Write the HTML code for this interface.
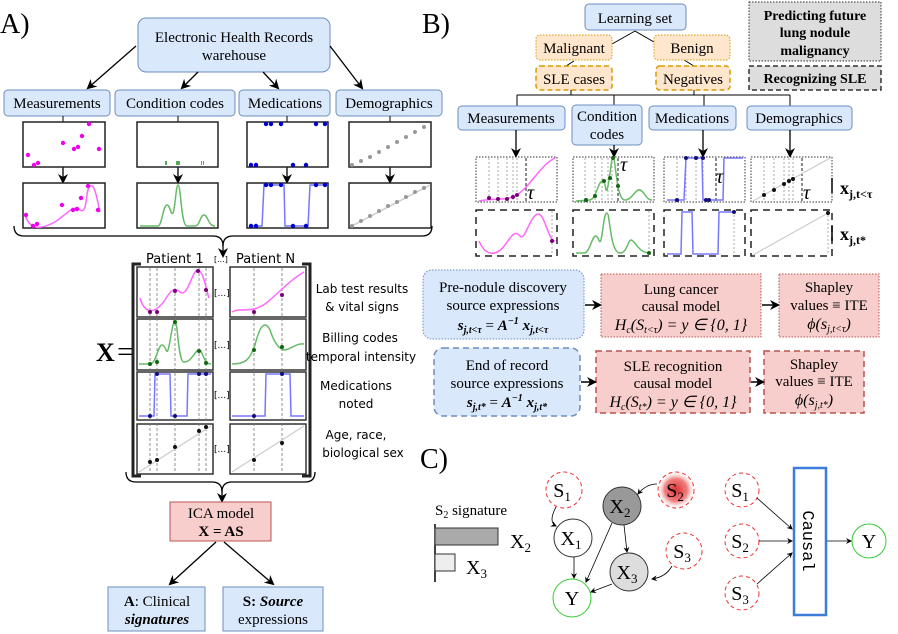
<!DOCTYPE html>
<html><head><meta charset="utf-8"><style>
html,body{margin:0;padding:0;background:#fff}
svg{display:block}
.s{font-family:"Liberation Serif",serif}
.n{font-family:"DejaVu Sans","Liberation Sans",sans-serif}
</style></head><body>
<svg width="898" height="634" viewBox="0 0 898 634" xmlns="http://www.w3.org/2000/svg">
<defs>
<marker id="ah" markerWidth="10" markerHeight="10" refX="8" refY="5" orient="auto" markerUnits="userSpaceOnUse"><path d="M0,0 L10,5 L0,10 L3,5z" fill="#000"/></marker>
<marker id="as" markerWidth="6" markerHeight="6" refX="5" refY="3" orient="auto" markerUnits="userSpaceOnUse"><path d="M0,0 L6,3 L0,6 L2,3z" fill="#000"/></marker>
<radialGradient id="rg"><stop offset="0" stop-color="#d33"/><stop offset="0.6" stop-color="#f08080"/><stop offset="1" stop-color="#fff" stop-opacity="0"/></radialGradient>
</defs>
<g class="s" fill="#000">
<!-- Panel A -->
<text x="0" y="33" font-size="28">A)</text>
<rect x="138" y="18" width="192" height="54" rx="8" fill="#dae8fc" stroke="#6c8ebf"/>
<text x="234" y="42" font-size="15" text-anchor="middle">Electronic Health Records</text>
<text x="234" y="60" font-size="15" text-anchor="middle">warehouse</text>
<g stroke="#000" stroke-width="1.3" fill="none" marker-end="url(#ah)">
<line x1="136" y1="46" x2="88" y2="88"/><line x1="198" y1="72" x2="182" y2="88"/>
<line x1="263" y1="72" x2="278" y2="88"/><line x1="330" y1="46" x2="362" y2="88"/>
</g>
<g fill="#dae8fc" stroke="#6c8ebf">
<rect x="4" y="90" width="106" height="26" rx="4"/><rect x="115" y="90" width="120" height="26" rx="4"/>
<rect x="239" y="90" width="91" height="26" rx="4"/><rect x="336" y="90" width="106" height="26" rx="4"/>
</g>
<g font-size="15" text-anchor="middle">
<text x="57" y="108">Measurements</text><text x="175" y="108">Condition codes</text>
<text x="285" y="108">Medications</text><text x="389" y="108">Demographics</text>
</g>
<g stroke="#000" stroke-width="1"><line x1="63" y1="116" x2="63" y2="122"/><line x1="178" y1="116" x2="178" y2="122"/><line x1="287" y1="116" x2="287" y2="122"/><line x1="390" y1="116" x2="390" y2="122"/></g>
<g stroke="#000" stroke-width="1.3" marker-end="url(#ah)"><line x1="63" y1="167" x2="63" y2="182"/><line x1="178" y1="167" x2="178" y2="182"/><line x1="287" y1="167" x2="287" y2="182"/><line x1="390" y1="167" x2="390" y2="182"/></g>
<g fill="#fff" stroke="#222" stroke-width="1.5">
<rect x="23" y="122" width="82" height="45"/><rect x="137" y="122" width="81" height="45"/><rect x="247" y="122" width="81" height="45"/><rect x="349" y="122" width="82" height="45"/>
<rect x="23" y="183" width="82" height="45"/><rect x="137" y="183" width="81" height="45"/><rect x="247" y="183" width="81" height="45"/><rect x="349" y="183" width="82" height="45"/>
</g>
<g fill="#e0e">
<circle cx="28" cy="155" r="2.2"/><circle cx="34" cy="165" r="2.2"/><circle cx="38" cy="163" r="2.2"/><circle cx="63" cy="143" r="2.2"/><circle cx="74" cy="149" r="2.2"/><circle cx="78" cy="147" r="2.2"/><circle cx="82" cy="136" r="2.2"/><circle cx="89" cy="124" r="2.2"/><circle cx="99" cy="149" r="2.2"/>
</g>
<g fill="#5a5" ><rect x="165" y="161" width="2" height="4"/><rect x="176" y="161" width="4" height="4"/><rect x="201" y="161" width="1" height="4"/><rect x="203" y="161" width="1" height="4"/></g>
<g fill="#00c"><circle cx="251" cy="165" r="2.2"/><circle cx="256" cy="165" r="2.2"/><circle cx="266" cy="124" r="2.2"/><circle cx="271" cy="124" r="2.2"/><circle cx="281" cy="124" r="2.2"/><circle cx="293" cy="165" r="2.2"/><circle cx="306" cy="165" r="2.2"/><circle cx="316" cy="124" r="2.2"/><circle cx="325" cy="124" r="2.2"/></g>
<g fill="#999"><circle cx="352" cy="165" r="2"/><circle cx="361" cy="161" r="2"/><circle cx="370" cy="157" r="2"/><circle cx="379" cy="152" r="2"/><circle cx="388" cy="147" r="2"/><circle cx="397" cy="142" r="2"/><circle cx="406" cy="137" r="2"/><circle cx="415" cy="132" r="2"/><circle cx="424" cy="127" r="2"/></g>
<path d="M25,215 C30,230 40,230 55,222 C70,212 72,205 80,210 C88,215 85,190 90,186 C95,183 97,200 100,212" stroke="#f6f" stroke-width="1.5" fill="none"/>
<g fill="#e0e"><circle cx="26" cy="215" r="2.2"/><circle cx="33" cy="226" r="2.2"/><circle cx="37" cy="224" r="2.2"/><circle cx="62" cy="205" r="2.2"/><circle cx="73" cy="210" r="2.2"/><circle cx="77" cy="209" r="2.2"/><circle cx="81" cy="198" r="2.2"/><circle cx="88" cy="186" r="2.2"/><circle cx="98" cy="210" r="2.2"/></g>
<path d="M140,226 L158,226 C162,226 163,205 167,205 C170,205 171,216 173,213 C175,210 176,185 178,185 C181,185 181,226 187,226 L195,226 C200,226 200,215 204,215 C208,215 208,226 215,226" stroke="#6b6" stroke-width="1.5" fill="none"/>
<path d="M250,226 L262,226 L264,185 L284,185 L285,226 L308,226 L310,185 L326,185" stroke="#77f" stroke-width="1.5" fill="none"/>
<g fill="#00c"><circle cx="251" cy="226" r="2.2"/><circle cx="256" cy="226" r="2.2"/><circle cx="266" cy="185" r="2.2"/><circle cx="271" cy="185" r="2.2"/><circle cx="281" cy="185" r="2.2"/><circle cx="293" cy="226" r="2.2"/><circle cx="306" cy="226" r="2.2"/><circle cx="316" cy="185" r="2.2"/><circle cx="325" cy="185" r="2.2"/></g>
<line x1="350" y1="227" x2="430" y2="185" stroke="#ccc" stroke-width="1.5"/>
<g fill="#999"><circle cx="352" cy="226" r="2"/><circle cx="361" cy="221" r="2"/><circle cx="370" cy="216" r="2"/><circle cx="379" cy="211" r="2"/><circle cx="388" cy="206" r="2"/><circle cx="397" cy="202" r="2"/><circle cx="406" cy="197" r="2"/><circle cx="415" cy="192" r="2"/><circle cx="424" cy="188" r="2"/></g>
<path d="M14,226 Q14,236 24,236 L213,236 Q223,236 223,246 Q223,236 233,236 L422,236 Q432,236 432,226" stroke="#000" stroke-width="1.3" fill="none"/>
<line x1="223" y1="244" x2="223" y2="256" stroke="#000" stroke-width="1.3" marker-end="url(#ah)"/>
<text x="146" y="263" class="n" font-size="13">Patient 1</text>
<text x="214" y="262" class="n" font-size="8">[...]</text>
<text x="236" y="263" class="n" font-size="13">Patient N</text>
<path d="M141,264 L133,264 L133,476 L141,476" stroke="#222" stroke-width="3" fill="none"/>
<path d="M302,264 L310,264 L310,476 L302,476" stroke="#222" stroke-width="3" fill="none"/>
<text x="96" y="361" font-size="26" font-weight="bold">X</text>
<text x="125" y="361" font-size="28" text-anchor="middle">=</text>
<g fill="#fff" stroke="#333" stroke-width="1.5">
<rect x="137" y="267" width="76" height="50"/><rect x="137" y="319" width="76" height="51"/><rect x="137" y="372" width="76" height="48"/><rect x="137" y="424" width="76" height="50"/>
<rect x="230" y="267" width="76" height="50"/><rect x="230" y="319" width="76" height="51"/><rect x="230" y="372" width="76" height="48"/><rect x="230" y="424" width="76" height="50"/>
</g>
<g stroke="#777" stroke-width="0.8" stroke-dasharray="3,2">
<line x1="150" y1="268" x2="150" y2="473"/><line x1="157" y1="268" x2="157" y2="473"/><line x1="175" y1="268" x2="175" y2="473"/><line x1="199" y1="268" x2="199" y2="473"/><line x1="206" y1="268" x2="206" y2="473"/>
<line x1="254" y1="268" x2="254" y2="473"/><line x1="282" y1="268" x2="282" y2="473"/>
</g>
<g class="n" font-size="9"><text x="214" y="296">[...]</text><text x="214" y="348">[...]</text><text x="214" y="398">[...]</text><text x="214" y="452">[...]</text></g>
<path d="M140,298 C145,315 155,314 165,300 C172,288 175,288 180,292 C188,298 192,270 198,270 C204,272 206,290 209,298" stroke="#f6f" stroke-width="1.5" fill="none"/>
<path d="M232,312 C240,307 250,314 265,304 C280,292 290,280 304,272" stroke="#f6f" stroke-width="1.5" fill="none"/>
<path d="M139,364 L150,364 C156,364 158,345 162,345 C166,345 166,355 168,350 C171,340 172,322 175,322 C178,322 178,362 184,362 C192,362 195,350 199,350 C203,350 203,364 211,364" stroke="#6b6" stroke-width="1.5" fill="none"/>
<path d="M232,364 C245,364 250,360 255,345 C260,325 265,320 270,330 C275,345 280,350 285,350 C292,348 298,343 304,344" stroke="#6b6" stroke-width="1.5" fill="none"/>
<path d="M139,416 L154,416 L155,374 L170,374 L171,416 L187,416 L188,374 L211,374" stroke="#77f" stroke-width="1.5" fill="none"/>
<path d="M232,416 L265,416 L266,374 L290,374 L291,416 L304,416" stroke="#77f" stroke-width="1.5" fill="none"/>
<line x1="139" y1="472" x2="211" y2="426" stroke="#ccc" stroke-width="1.2"/><line x1="232" y1="472" x2="304" y2="426" stroke="#ccc" stroke-width="1.2"/>
<g fill="#707"><circle cx="150" cy="312" r="2"/><circle cx="157" cy="312" r="2"/><circle cx="175" cy="291" r="2"/><circle cx="198" cy="271" r="2"/><circle cx="206" cy="290" r="2"/><circle cx="254" cy="312" r="2"/><circle cx="282" cy="295" r="2"/></g>
<g fill="#161"><circle cx="150" cy="364" r="2"/><circle cx="157" cy="362" r="2"/><circle cx="175" cy="322" r="2"/><circle cx="199" cy="351" r="2"/><circle cx="206" cy="363" r="2"/><circle cx="254" cy="350" r="2"/><circle cx="282" cy="347" r="2"/></g>
<g fill="#117"><circle cx="150" cy="416" r="2"/><circle cx="157" cy="374" r="2"/><circle cx="175" cy="416" r="2"/><circle cx="199" cy="374" r="2"/><circle cx="206" cy="374" r="2"/><circle cx="254" cy="416" r="2"/><circle cx="282" cy="374" r="2"/></g>
<g fill="#111"><circle cx="150" cy="462" r="2"/><circle cx="157" cy="460" r="2"/><circle cx="175" cy="447" r="2"/><circle cx="199" cy="431" r="2"/><circle cx="206" cy="427" r="2"/><circle cx="254" cy="460" r="2"/><circle cx="282" cy="443" r="2"/></g>
<g class="n" font-size="12" text-anchor="middle">
<text x="362" y="293">Lab test results</text><text x="362" y="311">&amp; vital signs</text>
<text x="360" y="342">Billing codes</text><text x="361" y="361">temporal intensity</text>
<text x="356" y="390">Medications</text><text x="356" y="408">noted</text>
<text x="356" y="439">Age, race,</text><text x="363" y="457">biological sex</text>
</g>
<path d="M126,472 Q126,482 136,482 L212,482 Q222,482 222,492 Q222,482 232,482 L305,482 Q315,482 315,472" stroke="#000" stroke-width="1.3" fill="none"/>
<line x1="222" y1="490" x2="222" y2="501" stroke="#000" stroke-width="1.3" marker-end="url(#ah)"/>
<rect x="170" y="502" width="101" height="39" fill="#f8cecc" stroke="#b85450"/>
<text x="221" y="518" font-size="15" text-anchor="middle">ICA model</text>
<text x="221" y="536" font-size="15" text-anchor="middle" font-weight="bold">X = AS</text>
<g stroke="#000" stroke-width="1.3" marker-end="url(#ah)"><line x1="216" y1="542" x2="170" y2="584"/><line x1="224" y1="542" x2="273" y2="584"/></g>
<rect x="108" y="587" width="97" height="44" fill="#dae8fc" stroke="#6c8ebf"/>
<rect x="223" y="587" width="100" height="44" fill="#dae8fc" stroke="#6c8ebf"/>
<text x="157" y="606" font-size="15" text-anchor="middle"><tspan font-weight="bold">A</tspan>: Clinical</text>
<text x="157" y="624" font-size="15" text-anchor="middle" font-weight="bold" font-style="italic">signatures</text>
<text x="273" y="606" font-size="15" text-anchor="middle" font-weight="bold">S: <tspan font-style="italic">Source</tspan></text>
<text x="273" y="624" font-size="15" text-anchor="middle">expressions</text>

<!-- Panel B -->
<text x="422" y="33" font-size="28">B)</text>
<rect x="585" y="4" width="101" height="26" rx="4" fill="#dae8fc" stroke="#6c8ebf"/>
<text x="635" y="23" font-size="15" text-anchor="middle">Learning set</text>
<g stroke="#000" stroke-width="1"><line x1="612" y1="44" x2="635" y2="31"/><line x1="635" y1="31" x2="654" y2="42"/><line x1="574" y1="61" x2="566" y2="66"/><line x1="684" y1="60" x2="694" y2="66"/></g>
<g fill="#ffe6cc" stroke="#d79b00">
<rect x="536" y="35" width="76" height="25" rx="4" stroke-dasharray="1.5,1.5"/><rect x="654" y="35" width="76" height="25" rx="4" stroke-dasharray="1.5,1.5"/>
<rect x="536" y="66" width="76" height="24" rx="4" stroke-dasharray="5,3" stroke-width="1.5"/><rect x="656" y="66" width="74" height="24" rx="4" stroke-dasharray="5,3" stroke-width="1.5"/>
</g>
<g font-size="15" text-anchor="middle"><text x="574" y="53">Malignant</text><text x="692" y="53">Benign</text><text x="574" y="84">SLE cases</text><text x="693" y="84">Negatives</text></g>
<rect x="749" y="2" width="132" height="59" fill="#ddd" stroke="#333" stroke-dasharray="1.5,1.5"/>
<rect x="749" y="66" width="132" height="24" fill="#ddd" stroke="#333" stroke-dasharray="5,3" stroke-width="1.5"/>
<g font-size="14" font-weight="bold" text-anchor="middle"><text x="815" y="20">Predicting future</text><text x="815" y="37">lung nodule</text><text x="815" y="55">malignancy</text><text x="815" y="83">Recognizing SLE</text></g>
<g stroke="#000" stroke-width="1" fill="none">
<line x1="571" y1="90" x2="571" y2="95"/><line x1="694" y1="90" x2="694" y2="95"/>
<line x1="517" y1="95" x2="790" y2="95"/>
<line x1="517" y1="95" x2="517" y2="106"/><line x1="614" y1="95" x2="614" y2="105"/><line x1="704" y1="95" x2="704" y2="106"/><line x1="790" y1="95" x2="790" y2="106"/>
</g>
<g fill="#dae8fc" stroke="#6c8ebf">
<rect x="458" y="106" width="107" height="24" rx="4"/><rect x="572" y="105" width="70" height="40" rx="4"/><rect x="649" y="106" width="87" height="24" rx="4"/><rect x="747" y="106" width="105" height="24" rx="4"/>
</g>
<g font-size="15" text-anchor="middle"><text x="511" y="123">Measurements</text><text x="607" y="121">Condition</text><text x="607" y="139">codes</text><text x="692" y="123">Medications</text><text x="799" y="123">Demographics</text></g>
<g stroke="#000" stroke-width="1.3" marker-end="url(#ah)"><line x1="516" y1="130" x2="516" y2="156"/><line x1="614" y1="145" x2="614" y2="156"/><line x1="703" y1="130" x2="703" y2="156"/><line x1="790" y1="130" x2="790" y2="156"/></g>
<g fill="#fff" stroke="#333" stroke-dasharray="1.5,1.5">
<rect x="476" y="157" width="81" height="45"/><rect x="573" y="157" width="81" height="45"/><rect x="664" y="157" width="81" height="45"/><rect x="751" y="157" width="81" height="45"/>
</g>
<g fill="none" stroke="#222" stroke-dasharray="7,5" stroke-width="1.5">
<rect x="476" y="210" width="81" height="46"/><rect x="573" y="210" width="81" height="46"/><rect x="664" y="210" width="81" height="46"/><rect x="751" y="210" width="81" height="46"/>
</g>
<g stroke="#888" stroke-width="0.7" stroke-dasharray="2,2">
<line x1="489" y1="158" x2="489" y2="201"/><line x1="498" y1="158" x2="498" y2="201"/><line x1="507" y1="158" x2="507" y2="201"/><line x1="513" y1="158" x2="513" y2="201"/><line x1="517" y1="158" x2="517" y2="201"/>
<line x1="585" y1="158" x2="585" y2="201"/><line x1="595" y1="158" x2="595" y2="201"/><line x1="602" y1="158" x2="602" y2="201"/><line x1="608" y1="158" x2="608" y2="201"/><line x1="612" y1="158" x2="612" y2="201"/>
<line x1="677" y1="158" x2="677" y2="201"/><line x1="686" y1="158" x2="686" y2="201"/><line x1="696" y1="158" x2="696" y2="201"/><line x1="703" y1="158" x2="703" y2="201"/>
<line x1="764" y1="158" x2="764" y2="201"/><line x1="774" y1="158" x2="774" y2="201"/><line x1="784" y1="158" x2="784" y2="201"/><line x1="789" y1="158" x2="789" y2="201"/><line x1="793" y1="158" x2="793" y2="201"/>
</g>
<g stroke="#000" stroke-width="0.9" stroke-dasharray="3,2"><line x1="526" y1="158" x2="526" y2="201"/><line x1="618" y1="158" x2="618" y2="201"/><line x1="716" y1="158" x2="716" y2="201"/><line x1="802" y1="158" x2="802" y2="201"/></g>
<path d="M479,201 C490,198 505,201 515,196 C530,188 540,165 555,158" stroke="#f6f" stroke-width="1.5" fill="none"/>
<path d="M576,201 L590,200 C597,198 598,180 603,181 C606,182 605,192 607,190 C610,180 611,158 613,158 C616,158 616,200 625,200 C632,200 636,188 640,190 C645,192 646,200 652,200" stroke="#6b6" stroke-width="1.5" fill="none"/>
<path d="M667,200 L684,200 L686,158 L702,158 L703,200 L723,200 L724,158 L743,158" stroke="#77f" stroke-width="1.5" fill="none"/>
<line x1="753" y1="201" x2="830" y2="158" stroke="#ccc" stroke-width="1.2"/>
<g fill="#707"><circle cx="489" cy="198" r="2"/><circle cx="498" cy="199" r="2"/><circle cx="507" cy="199" r="2"/><circle cx="513" cy="197" r="2"/><circle cx="517" cy="195" r="2"/></g>
<g fill="#161"><circle cx="586" cy="200" r="2"/><circle cx="595" cy="196" r="2"/><circle cx="604" cy="181" r="2"/><circle cx="610" cy="178" r="2"/><circle cx="613" cy="158" r="2"/><circle cx="618" cy="186" r="2"/></g>
<g fill="#117"><circle cx="677" cy="200" r="2"/><circle cx="686" cy="158" r="2"/><circle cx="696" cy="158" r="2"/><circle cx="703" cy="158" r="2"/><circle cx="706" cy="200" r="2"/><circle cx="709" cy="200" r="2"/></g>
<g fill="#111"><circle cx="764" cy="195" r="2"/><circle cx="774" cy="190" r="2"/><circle cx="784" cy="184" r="2"/><circle cx="789" cy="181" r="2"/><circle cx="793" cy="179" r="2"/></g>
<g font-size="20" font-style="italic"><text x="527" y="199">τ</text><text x="620" y="171">τ</text><text x="716" y="183">τ</text><text x="803" y="199">τ</text></g>
<path d="M479,241 C485,255 495,258 505,245 C512,235 515,230 520,236 C525,242 530,215 538,214 C545,214 548,240 555,241" stroke="#f6f" stroke-width="1.5" fill="none"/>
<path d="M576,253 L584,253 C590,253 592,235 596,236 C599,237 599,245 601,240 C604,225 604,213 607,213 C610,213 610,253 620,253 C627,253 628,240 631,240 C635,240 638,253 650,253" stroke="#6b6" stroke-width="1.5" fill="none"/>
<path d="M667,254 L681,254 L682,212 L692,212 L693,254 L718,254 L719,212 L734,212" stroke="#77f" stroke-width="1.5" fill="none"/>
<line x1="753" y1="255" x2="828" y2="213" stroke="#ccc" stroke-width="1.2"/>
<g stroke="#888" stroke-width="0.7" stroke-dasharray="2,2"><line x1="552" y1="211" x2="552" y2="255"/><line x1="649" y1="211" x2="649" y2="255"/><line x1="734" y1="211" x2="734" y2="255"/><line x1="828" y1="211" x2="828" y2="255"/></g>
<g><circle cx="552" cy="241" r="2" fill="#707"/><circle cx="649" cy="253" r="2" fill="#161"/><circle cx="734" cy="212" r="2" fill="#117"/><circle cx="828" cy="213" r="2" fill="#111"/></g>
<text x="840" y="194" font-size="18" font-weight="bold">x<tspan font-size="12" dy="4">j,t&lt;τ</tspan></text>
<text x="840" y="240" font-size="18" font-weight="bold">x<tspan font-size="12" dy="4">j,t*</tspan></text>
<line x1="832" y1="226" x2="832" y2="241" stroke="#000" stroke-width="1.5"/>
<line x1="832" y1="178" x2="832" y2="193" stroke="#000" stroke-width="1.5"/>
<rect x="423" y="270" width="161" height="69" rx="9" fill="#dae8fc" stroke="#6c8ebf" stroke-dasharray="1.5,1.5"/>
<rect x="601" y="274" width="160" height="63" fill="#f8cecc" stroke="#b85450" stroke-dasharray="1.5,1.5"/>
<rect x="779" y="274" width="100" height="63" fill="#f8cecc" stroke="#b85450" stroke-dasharray="1.5,1.5"/>
<rect x="434" y="348" width="146" height="68" rx="9" fill="#dae8fc" stroke="#6c8ebf" stroke-dasharray="6,4" stroke-width="1.5"/>
<rect x="596" y="351" width="154" height="62" fill="#f8cecc" stroke="#b85450" stroke-dasharray="6,4" stroke-width="1.5"/>
<rect x="764" y="351" width="100" height="62" fill="#f8cecc" stroke="#b85450" stroke-dasharray="6,4" stroke-width="1.5"/>
<g stroke="#000" stroke-width="1.5" marker-end="url(#ah)"><line x1="585" y1="305" x2="600" y2="305"/><line x1="762" y1="305" x2="778" y2="305"/><line x1="581" y1="382" x2="595" y2="382"/><line x1="751" y1="382" x2="763" y2="382"/></g>
<g font-size="15" text-anchor="middle">
<text x="503" y="292">Pre-nodule discovery</text><text x="503" y="310">source expressions</text>
<text x="503" y="330" font-style="italic" font-weight="bold" font-size="15">s<tspan font-size="10" dy="3">j,t&lt;τ</tspan><tspan dy="-3" font-weight="normal" font-style="normal"> = </tspan>A<tspan font-size="10" dy="-6">−1</tspan><tspan dy="6"> x</tspan><tspan font-size="10" dy="3">j,t&lt;τ</tspan></text>
<text x="681" y="294">Lung cancer</text><text x="681" y="311">causal model</text>
<text x="681" y="330" font-style="italic" font-size="16">H<tspan font-size="10" dy="3">c</tspan><tspan dy="-3">(S</tspan><tspan font-size="10" dy="3">t&lt;τ</tspan><tspan dy="-3">) = y ∈ {0, 1}</tspan></text>
<text x="829" y="292">Shapley</text><text x="829" y="310">values ≡ ITE</text>
<text x="829" y="329" font-style="italic" font-size="16">ϕ(s<tspan font-size="10" dy="3">j,t&lt;τ</tspan><tspan dy="-3">)</tspan></text>
<text x="507" y="370">End of record</text><text x="507" y="388">source expressions</text>
<text x="507" y="407" font-style="italic" font-weight="bold" font-size="15">s<tspan font-size="10" dy="3">j,t*</tspan><tspan dy="-3" font-weight="normal" font-style="normal"> = </tspan>A<tspan font-size="10" dy="-6">−1</tspan><tspan dy="6"> x</tspan><tspan font-size="10" dy="3">j,t*</tspan></text>
<text x="673" y="371">SLE recognition</text><text x="673" y="388">causal model</text>
<text x="673" y="407" font-style="italic" font-size="16">H<tspan font-size="10" dy="3">c</tspan><tspan dy="-3">(S</tspan><tspan font-size="10" dy="3">t*</tspan><tspan dy="-3">) = y ∈ {0, 1}</tspan></text>
<text x="814" y="369">Shapley</text><text x="814" y="386">values ≡ ITE</text>
<text x="814" y="405" font-style="italic" font-size="16">ϕ(s<tspan font-size="10" dy="3">j,t*</tspan><tspan dy="-3">)</tspan></text>
</g>
<!-- Panel C -->
<text x="420" y="468" font-size="28">C)</text>
<text x="435" y="515" font-size="15">S<tspan font-size="10" dy="3">2</tspan><tspan dy="-3"> signature</tspan></text>
<line x1="435" y1="524" x2="435" y2="582" stroke="#000" stroke-width="1.5"/>
<rect x="435" y="528" width="63" height="17" fill="#aaa" stroke="#333"/>
<rect x="435" y="554" width="20" height="17" fill="#eee" stroke="#333"/>
<text x="510" y="548" font-size="20">X<tspan font-size="13" dy="4">2</tspan></text>
<text x="466" y="574" font-size="20">X<tspan font-size="13" dy="4">3</tspan></text>
<circle cx="676" cy="490" r="19" fill="url(#rg)"/>
<g fill="none" stroke="#e33" stroke-dasharray="4,3">
<circle cx="564" cy="490" r="18"/><circle cx="676" cy="490" r="18"/><circle cx="684" cy="551" r="18"/>
<circle cx="742" cy="490" r="17"/><circle cx="742" cy="541" r="17"/><circle cx="742" cy="593" r="17"/>
</g>
<circle cx="622" cy="506" r="19" fill="#999" stroke="#333"/>
<circle cx="573" cy="538" r="19" fill="#fff" stroke="#333"/>
<circle cx="629" cy="572" r="19" fill="#ddd" stroke="#333"/>
<circle cx="572" cy="598" r="19" fill="#fff" stroke="#3c3"/>
<circle cx="869" cy="541" r="17" fill="#fff" stroke="#3c3"/>
<g font-size="20" text-anchor="middle">
<text x="562" y="497">S<tspan font-size="13" dy="4">1</tspan></text><text x="675" y="497">S<tspan font-size="13" dy="4">2</tspan></text><text x="682" y="558">S<tspan font-size="13" dy="4">3</tspan></text>
<text x="620" y="513">X<tspan font-size="13" dy="4">2</tspan></text><text x="571" y="545">X<tspan font-size="13" dy="4">1</tspan></text><text x="627" y="579">X<tspan font-size="13" dy="4">3</tspan></text>
<text x="572" y="605">Y</text><text x="869" y="548">Y</text>
<text x="740" y="497">S<tspan font-size="13" dy="4">1</tspan></text><text x="740" y="548">S<tspan font-size="13" dy="4">2</tspan></text><text x="740" y="600">S<tspan font-size="13" dy="4">3</tspan></text>
</g>
<g stroke="#000" stroke-width="0.8" fill="none" marker-end="url(#as)">
<path d="M556,507 Q548,522 556,526"/><path d="M657,484 Q646,484 638,494"/><path d="M672,566 Q666,577 652,579"/>
<line x1="574" y1="557" x2="574" y2="578"/><line x1="612" y1="523" x2="586" y2="582"/><line x1="624" y1="525" x2="627" y2="552"/><line x1="612" y1="584" x2="591" y2="592"/>
<line x1="757" y1="498" x2="792" y2="529"/><line x1="759" y1="541" x2="792" y2="541"/><line x1="757" y1="584" x2="792" y2="553"/><line x1="826" y1="541" x2="851" y2="541"/>
</g>
<rect x="794" y="468" width="32" height="147" fill="#fff" stroke="#3b7dd8" stroke-width="2.5"/>
<text transform="translate(803,541) rotate(90)" font-size="17" text-anchor="middle" font-family="Liberation Mono,monospace">Causal</text>
</g>
</svg>
</body></html>
